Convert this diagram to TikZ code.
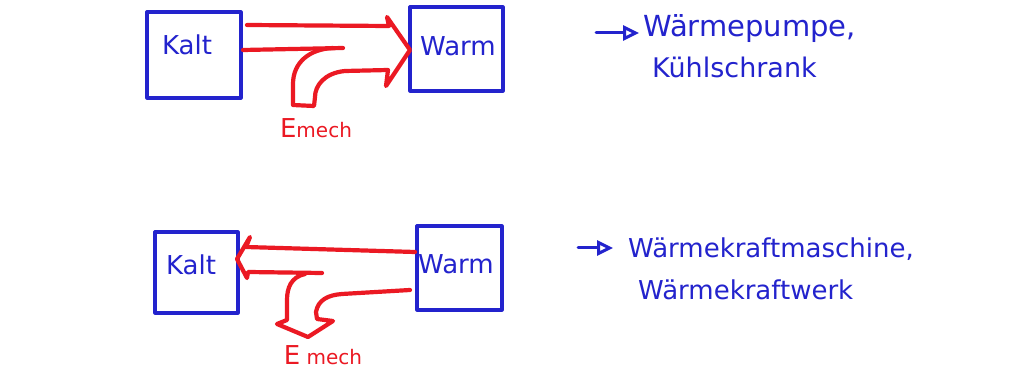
\documentclass[tikz,border=0pt]{standalone}
\usepackage{fontspec}
\setmainfont{DejaVu Sans}
\usetikzlibrary{arrows.meta}
\definecolor{penblue}{RGB}{35,35,205}
\definecolor{penred}{RGB}{235,25,35}
\tikzset{
  box/.style={draw=penblue, line width=3.2pt, line join=round, rectangle, inner sep=0pt},
  boxtext/.style={text=penblue, font=\fontsize{26}{30}\selectfont, inner sep=0pt},
  note/.style={text=penblue, inner sep=0pt, anchor=base west},
  flow/.style={draw=penred, line width=4.2pt, line join=round, line cap=round},
  emech/.style={text=penred, inner sep=0pt, font=\fontsize{26}{30}\selectfont},
  pointer/.style={draw=penblue, line width=3pt, line cap=round, -{Triangle[open,length=16pt,width=15pt,line width=3pt]}}
}
\begin{document}
\begin{tikzpicture}[x=1pt,y=-1pt]
\useasboundingbox[fill=white] (0,0) rectangle (1029,387);

% ---------- top: heat pump ----------
\node[box, minimum width=94pt, minimum height=86pt] (k1) at (194,55) {};
\node[boxtext] (k1t) at (187,45) {Kalt};
\node[box, minimum width=93pt, minimum height=84pt] (w1) at (456.5,49) {};
\node[boxtext] (w1t) at (458,46) {Warm};
\node[emech] (e1) at (316,128) {E{\fontsize{20}{22}\selectfont mech}};

\draw[flow] (247,25) -- (389,26) -- (387,17) -- (410,50) -- (386,86) -- (388,70) -- (345,71)
  .. controls (324,73) and (315,86) .. (315,97) -- (314,106) -- (293,105) -- (293,84)
  .. controls (293,62) and (310,49) .. (333,48);
\draw[flow] (243,50) -- (343,48);

% ---------- bottom: heat engine ----------
\node[box, minimum width=83pt, minimum height=81pt] (k2) at (196.5,272.5) {};
\node[boxtext] (k2t) at (191,265) {Kalt};
\node[box, minimum width=85pt, minimum height=84pt] (w2) at (459.5,268) {};
\node[boxtext] (w2t) at (456,264) {Warm};
\node[emech] (e2) at (323,355) {E{\fontsize{20}{22}\selectfont\ mech}};

\draw[flow] (415,252) -- (246,247) -- (250,237) -- (237,259) -- (247,278) -- (248,272) -- (322,273);
\draw[flow] (305,274) .. controls (291,277) and (287,288) .. (287,300) -- (287,320) -- (277,324)
  -- (308,337) -- (333,321) -- (317,319) -- (316,312)
  .. controls (318,300) and (328,295) .. (342,294) -- (410,290);

% ---------- notes ----------
\node[note, font=\fontsize{29}{32}\selectfont] (n1) at (643,37) {Wärmepumpe,};
\node[note, font=\fontsize{27}{30}\selectfont] (n2) at (652,78) {Kühlschrank};
\coordinate (p1) at (596,33);
\draw[pointer] (p1) -- ([xshift=-4pt]n1.west |- p1);

\node[note, font=\fontsize{26}{30}\selectfont] (n3) at (628,258) {Wärmekraftmaschine,};
\node[note, font=\fontsize{26}{30}\selectfont] (n4) at (638,300) {Wärmekraftwerk};
\coordinate (p2) at (578,248);
\draw[pointer] (p2) -- ([xshift=-15pt]n3.west |- p2);
\end{tikzpicture}
\end{document}
